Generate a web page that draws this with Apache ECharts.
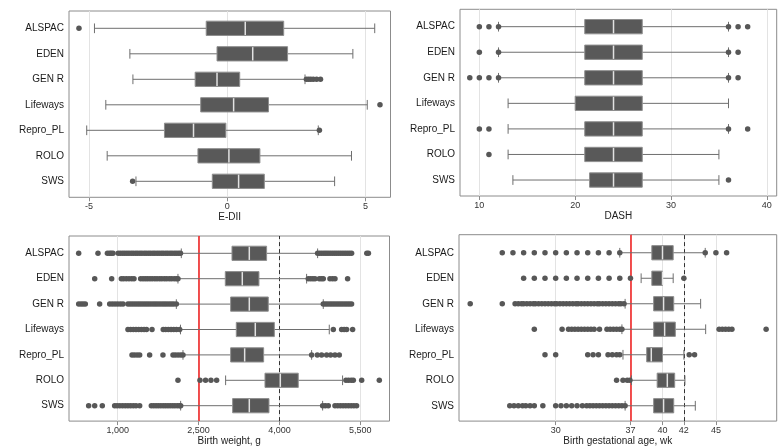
<!DOCTYPE html>
<html><head><meta charset="utf-8">
<script src="https://cdn.jsdelivr.net/npm/echarts@6/dist/echarts.min.js"></script>
<style>html,body{margin:0;padding:0;background:#fff}#c{width:780px;height:447px}</style>
</head><body><div id="c"></div>
<script>
// ---------- DATA ----------
const categories = ['ALSPAC', 'EDEN', 'GEN R', 'Lifeways', 'Repro_PL', 'ROLO', 'SWS'];

// box rows: [lower whisker, Q1, median, Q3, upper whisker]
const ediiBoxes = [
  [-4.80, -0.76, 0.65, 2.04, 5.33],
  [-3.52, -0.37, 0.92, 2.18, 4.54],
  [-3.41, -1.16, -0.37, 0.45, 2.81],
  [-4.39, -0.96, 0.23, 1.49, 5.06],
  [-5.08, -2.27, -1.22, -0.05, 3.29],
  [-4.34, -1.06, 0.06, 1.18, 4.49],
  [-3.30, -0.54, 0.41, 1.34, 3.88]
];
const ediiOutliers = [
  [-5.36],
  [],
  [2.86, 2.94, 3.02, 3.11, 3.23, 3.37],
  [5.52],
  [3.33],
  [],
  [-3.42]
];

const dashBoxes = [
  [12, 21, 24, 27, 36],
  [12, 21, 24, 27, 36],
  [12, 21, 24, 27, 36],
  [13, 20, 24, 27, 36],
  [13, 21, 24, 27, 36],
  [13, 21, 24, 27, 35],
  [13.5, 21.5, 24, 27, 35]
];
const dashOutliers = [
  [10, 11, 12, 36, 37, 38],
  [10, 12, 36, 37],
  [9, 10, 11, 12, 36, 37],
  [],
  [10, 11, 36, 38],
  [11],
  [36]
];

const bwBoxes = [
  [2180, 3120, 3441, 3762, 4708],
  [2118, 2996, 3311, 3620, 4504],
  [2088, 3095, 3441, 3793, 4813],
  [2165, 3200, 3552, 3905, 4924],
  [2211, 3095, 3355, 3707, 4597],
  [3002, 3732, 4016, 4349, 5171],
  [2168, 3132, 3441, 3806, 4801]
];
const bwOutliers = [
  [277, 635, 810, 850, 880, 913, 1010, 1050, 1092, 1130, 1171, 1210, 1252, 1290, 1333, 1370, 1412, 1450, 1493, 1530, 1572, 1610, 1653, 1690, 1732, 1770, 1812, 1850, 1893, 1930, 1972, 2010, 2052, 2090, 2130, 2165,
   4708, 4745, 4785, 4825, 4862, 4900, 4940, 4980, 5020, 5058, 5098, 5138, 5178, 5218, 5258, 5298, 5338, 5620, 5650],
  [574, 889, 1068, 1110, 1160, 1210, 1260, 1303, 1426, 1470, 1512, 1553, 1598, 1640, 1688, 1730, 1778, 1820, 1868, 1910, 1958, 2000, 2048, 2090, 2118,
   4535, 4578, 4620, 4659, 4739, 4778, 4813, 4937, 4985, 5030, 5264],
  [277, 320, 360, 400, 666, 852, 900, 950, 1000, 1050, 1099, 1191, 1232, 1275, 1318, 1360, 1402, 1445, 1488, 1530, 1572, 1615, 1658, 1700, 1742, 1785, 1828, 1870, 1912, 1955, 1998, 2040, 2088,
   4813, 4853, 4893, 4935, 4975, 5015, 5057, 5098, 5138, 5178, 5218, 5258, 5298, 5338],
  [1191, 1240, 1290, 1340, 1390, 1440, 1490, 1535, 1637, 1845, 1890, 1940, 1990, 2040, 2090, 2150,
   4999, 5153, 5200, 5246, 5357],
  [1266, 1310, 1360, 1408, 1593, 1840, 2026, 2070, 2120, 2170, 2211,
   4597, 4702, 4782, 4875, 4949, 5030, 5110],
  [2118, 2526, 2630, 2730, 2835,
   5233, 5280, 5330, 5370, 5525, 5852],
  [462, 574, 715, 944, 990, 1040, 1090, 1140, 1190, 1240, 1290, 1340, 1408, 1624, 1668, 1712, 1755, 1800, 1845, 1888, 1932, 1975, 2020, 2062, 2108, 2150, 2168,
   4801, 4850, 4906, 5030, 5080, 5130, 5180, 5230, 5280, 5330, 5380, 5431]
];

const gaBoxes = [
  [36, 39, 40, 41, 44],
  [38, 39, 40, 40, 41],
  [36.5, 39.17, 40.1, 41.05, 43.57],
  [36.2, 39.17, 40.2, 41.2, 44.04],
  [36.3, 38.52, 38.95, 40.0, 42.0],
  [37.1, 39.5, 40.45, 41.14, 42.1],
  [36.5, 39.17, 40.1, 41.05, 43.07]
];
const gaOutliers = [
  [25, 26, 27, 28, 29, 30, 31, 32, 33, 34, 35, 36, 44, 45, 46],
  [27, 28, 29, 30, 31, 32, 33, 34, 35, 36, 37, 42],
  [22, 25, 26.2, 26.5, 26.8, 27.0, 27.3, 27.6, 27.9, 28.1, 28.4, 28.7, 29.0, 29.3, 29.6, 29.9, 30.1, 30.4, 30.7, 31.0, 31.3, 31.6, 31.9, 32.1, 32.4, 32.7, 33.0, 33.3, 33.6, 33.9, 34.1, 34.4, 34.7, 35.0, 35.3, 35.6, 35.9, 36.1, 36.4],
  [28.0, 30.6, 31.2, 31.5, 31.8, 32.1, 32.4, 32.7, 33.0, 33.3, 33.6, 34.1, 34.8, 35.1, 35.4, 35.7, 36.0, 36.2, 45.3, 45.6, 45.9, 46.2, 46.5, 49.7],
  [29, 30, 33, 33.5, 34, 34.9, 35.3, 35.7, 36.0, 42.5, 43],
  [35.7, 36.3, 36.7, 36.95],
  [25.7, 26.1, 26.5, 26.9, 27.2, 27.6, 28.0, 28.8, 30.0, 30.5, 31.0, 31.5, 32.0, 32.5, 32.9, 33.2, 33.5, 33.8, 34.1, 34.4, 34.7, 35.0, 35.3, 35.6, 35.9, 36.2, 36.5]
];

const ediiTicks = [-5, 0, 5];
const dashTicks = [10, 20, 30, 40];
const bwTicks = [1000, 2500, 4000, 5500];
const gaTicks = [30, 37, 40, 42, 45];
const bwRefLines = [2500, 4000];   // red solid, black dashed
const gaRefLines = [37, 42];

// ---------- LAYOUT ----------
const panels = [
  { title: 'E-DII', boxes: ediiBoxes, outliers: ediiOutliers, ticks: ediiTicks, min: -5.72, max: 5.9, ref: null,
    left: 69, frameTop: 11, width: 321.5, frameH: 186.3, dataTop: 15.55, dataH: 178.5, nameGap: 12, fmt: v => String(v) },
  { title: 'DASH', boxes: dashBoxes, outliers: dashOutliers, ticks: dashTicks, min: 7.98, max: 41.03, ref: null,
    left: 460, frameTop: 9.3, width: 316.7, frameH: 186.7, dataTop: 13.9, dataH: 178.9, nameGap: 11, fmt: v => String(v) },
  { title: 'Birth weight, g', boxes: bwBoxes, outliers: bwOutliers, ticks: bwTicks, min: 97.5, max: 6041, ref: bwRefLines,
    left: 69, frameTop: 236, width: 320.5, frameH: 186, dataTop: 240.6, dataH: 177.8, nameGap: 12,
    fmt: v => Number(v).toLocaleString('en-US') },
  { title: 'Birth gestational age, wk', boxes: gaBoxes, outliers: gaOutliers, ticks: gaTicks, min: 20.95, max: 50.69, ref: gaRefLines,
    left: 459, frameTop: 234.7, width: 317.7, frameH: 187.3, dataTop: 240, dataH: 178.5, nameGap: 12, fmt: v => String(v) }
];

const FONT = "'Liberation Sans', Arial, sans-serif";
const grid = [], xAxis = [], yAxis = [], series = [];

panels.forEach((p, i) => {
  grid.push({ left: p.left, top: p.frameTop, width: p.width, height: p.frameH, show: true,
    borderColor: '#8c8c8c', borderWidth: 1, backgroundColor: 'transparent' });
  xAxis.push({ gridIndex: i, type: 'value', min: p.min, max: p.max,
    axisLine: { show: false }, splitLine: { show: false },
    axisTick: { show: true, customValues: p.ticks, length: 4, lineStyle: { color: '#8c8c8c' } },
    axisLabel: { customValues: p.ticks, formatter: p.fmt, fontSize: 9, color: '#333', margin: 5, fontFamily: FONT },
    name: p.title, nameLocation: 'middle', nameGap: p.nameGap,
    nameTextStyle: { fontSize: 10, color: '#222', fontFamily: FONT } });
  yAxis.push({ gridIndex: i, type: 'value', min: 0, max: 1, show: false });
});
panels.forEach((p, i) => {
  grid.push({ left: p.left, top: p.dataTop, width: p.width, height: p.dataH, show: false });
  xAxis.push({ gridIndex: 4 + i, type: 'value', min: p.min, max: p.max, show: false });
  yAxis.push({ gridIndex: 4 + i, type: 'category', data: categories, inverse: true,
    axisLine: { show: false }, axisTick: { show: false }, splitLine: { show: false },
    axisLabel: { fontSize: 10, color: '#1a1a1a', margin: 5, fontFamily: FONT } });
});

function renderBox(params, api) {
  const cat = api.value(0);
  const lo = api.coord([api.value(1), cat]);
  const q1 = api.coord([api.value(2), cat]);
  const md = api.coord([api.value(3), cat]);
  const q3 = api.coord([api.value(4), cat]);
  const hi = api.coord([api.value(5), cat]);
  const band = api.size([0, 1])[1];
  const bh = band * 0.56, ch = band * 0.38;
  const y = lo[1];
  const wl = { stroke: '#6e6e6e', lineWidth: 1 };
  return { type: 'group', children: [
    { type: 'line', shape: { x1: lo[0], y1: y, x2: q1[0], y2: y }, style: wl },
    { type: 'line', shape: { x1: q3[0], y1: y, x2: hi[0], y2: y }, style: wl },
    { type: 'line', shape: { x1: lo[0], y1: y - ch / 2, x2: lo[0], y2: y + ch / 2 }, style: wl },
    { type: 'line', shape: { x1: hi[0], y1: y - ch / 2, x2: hi[0], y2: y + ch / 2 }, style: wl },
    { type: 'rect', shape: { x: q1[0], y: y - bh / 2, width: q3[0] - q1[0], height: bh },
      style: { fill: '#595959', stroke: '#8e8e8e', lineWidth: 1 } },
    { type: 'line', shape: { x1: md[0], y1: y - bh / 2 + 0.5, x2: md[0], y2: y + bh / 2 - 0.5 },
      style: { stroke: '#e2e2e2', lineWidth: 1.5 } }
  ]};
}

panels.forEach((p, i) => {
  // light vertical grid lines on the frame
  series.push({ type: 'line', xAxisIndex: i, yAxisIndex: i, data: [], silent: true, z: 1,
    markLine: { silent: true, symbol: ['none', 'none'], label: { show: false }, animation: false, z: 1,
      lineStyle: { color: '#e3e3e3', width: 1, type: 'solid' },
      data: p.ticks.map(v => ({ xAxis: v })) } });
  if (p.ref) {
    series.push({ type: 'line', xAxisIndex: i, yAxisIndex: i, data: [], silent: true, z: 2,
      markLine: { silent: true, symbol: ['none', 'none'], label: { show: false }, animation: false, z: 2,
        data: [
          { xAxis: p.ref[0], lineStyle: { color: '#f01818', width: 1.5, type: 'solid' } },
          { xAxis: p.ref[1], lineStyle: { color: '#333', width: 1, type: [4, 3] } }
        ] } });
  }
  series.push({ type: 'custom', xAxisIndex: 4 + i, yAxisIndex: 4 + i, z: 3,
    renderItem: renderBox, encode: { x: [1, 2, 3, 4, 5], y: 0 },
    data: p.boxes.map((b, k) => [k].concat(b)) });
  const pts = [];
  p.outliers.forEach((arr, k) => arr.forEach(v => pts.push([v, k])));
  series.push({ type: 'scatter', xAxisIndex: 4 + i, yAxisIndex: 4 + i, z: 4,
    symbolSize: 5.5, itemStyle: { color: '#575757', opacity: 1 }, data: pts });
});

const chart = echarts.init(document.getElementById('c'), null, { renderer: 'canvas' });
chart.setOption({ animation: false, backgroundColor: '#fff', textStyle: { fontFamily: FONT },
  grid, xAxis, yAxis, series });
</script>
</body></html>
